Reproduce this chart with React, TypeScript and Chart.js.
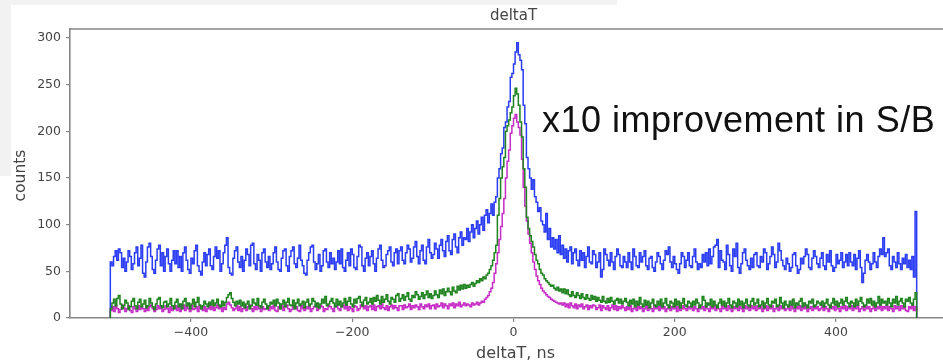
import React, { useEffect, useRef } from "react";
import { Chart, registerables } from "chart.js";

Chart.register(...registerables);

// ---- data (histogram counts, 2 ns bins from -500 to 500 ns; one row = 40 ns) ----
const BIN_START = -500;
const BIN_WIDTH = 2;

const BLUE_COUNTS = [
  60, 56, 66, 72, 62, 74, 70, 54, 64, 50, 60, 72, 66, 52, 58, 70, 76, 56, 64, 78,
  48, 44, 60, 76, 80, 66, 52, 48, 62, 74, 78, 56, 70, 50, 66, 74, 58, 50, 62, 72,
  58, 72, 54, 66, 50, 70, 76, 62, 52, 48, 64, 58, 72, 78, 56, 50, 46, 60, 70, 56,
  68, 74, 56, 52, 66, 76, 64, 72, 50, 58, 70, 78, 86, 54, 48, 46, 64, 72, 76, 60,
  54, 66, 50, 62, 74, 68, 56, 78, 80, 58, 52, 68, 62, 50, 70, 74, 60, 54, 66, 52,
  58, 70, 76, 60, 52, 50, 64, 72, 74, 56, 50, 66, 72, 76, 58, 54, 64, 78, 62, 56,
  48, 46, 62, 70, 76, 78, 60, 52, 58, 68, 50, 56, 72, 74, 60, 54, 70, 58, 64, 52,
  60, 72, 58, 74, 54, 50, 62, 70, 56, 74, 68, 54, 52, 66, 78, 76, 56, 50, 64, 70,
  56, 66, 72, 58, 50, 64, 74, 78, 62, 54, 56, 68, 72, 76, 60, 56, 70, 74, 58, 72,
  76, 62, 58, 70, 78, 74, 60, 64, 76, 82, 66, 58, 72, 78, 62, 58, 76, 84, 70, 64,
  68, 80, 74, 64, 78, 84, 72, 66, 82, 88, 72, 68, 84, 90, 76, 70, 86, 92, 78, 86,
  84, 96, 82, 92, 100, 86, 96, 104, 90, 100, 108, 94, 110, 116, 102, 112, 122, 110, 124, 130,
  150, 160, 176, 182, 204, 210, 226, 232, 258, 262, 272, 285, 295, 282, 276, 266, 228, 208, 172, 160,
  150, 138, 148, 130, 124, 114, 118, 104, 100, 92, 112, 84, 96, 76, 86, 74, 84, 70, 88, 68,
  78, 64, 74, 60, 72, 76, 58, 70, 74, 62, 56, 72, 62, 70, 54, 66, 76, 60, 58, 72,
  68, 54, 60, 70, 44, 52, 74, 68, 62, 56, 70, 60, 52, 66, 74, 68, 56, 54, 66, 60,
  54, 70, 60, 52, 74, 66, 56, 54, 70, 60, 66, 72, 56, 52, 64, 66, 54, 50, 60, 70,
  66, 58, 52, 62, 72, 68, 76, 60, 54, 66, 58, 52, 48, 58, 70, 66, 54, 62, 70, 56,
  54, 66, 74, 60, 52, 58, 54, 68, 60, 70, 56, 74, 58, 66, 76, 78, 84, 54, 72, 62,
  60, 52, 78, 68, 56, 50, 74, 66, 80, 54, 48, 58, 70, 74, 62, 56, 52, 64, 54, 68,
  70, 56, 54, 66, 60, 74, 70, 52, 58, 66, 76, 68, 54, 60, 80, 72, 62, 56, 52, 64,
  58, 50, 54, 68, 70, 56, 48, 52, 64, 58, 66, 74, 68, 54, 52, 64, 72, 66, 58, 54,
  64, 70, 56, 52, 68, 60, 72, 56, 50, 54, 68, 58, 62, 70, 54, 60, 68, 56, 70, 60,
  56, 68, 52, 64, 72, 54, 38, 48, 62, 68, 60, 52, 58, 70, 60, 54, 66, 74, 68, 86,
  66, 70, 74, 56, 52, 66, 60, 54, 70, 58, 52, 64, 58, 68, 54, 62, 52, 66, 44, 114,
];

const GREEN_COUNTS = [
  10, 16, 20, 13, 21, 24, 15, 10, 13, 19, 16, 9, 12, 18, 21, 13, 10, 17, 20, 12,
  15, 19, 11, 13, 21, 16, 12, 9, 15, 20, 22, 13, 11, 17, 18, 12, 15, 21, 13, 10,
  17, 20, 12, 15, 10, 18, 21, 13, 16, 10, 15, 20, 12, 17, 22, 14, 10, 13, 18, 15,
  12, 17, 14, 19, 13, 16, 20, 14, 12, 18, 13, 17, 22, 25, 27, 21, 17, 13, 18, 15,
  19, 13, 17, 11, 15, 18, 10, 13, 20, 16, 14, 21, 13, 11, 17, 20, 15, 10, 13, 17,
  15, 19, 13, 20, 16, 10, 15, 19, 12, 17, 21, 14, 13, 19, 10, 16, 20, 13, 15, 18,
  11, 17, 20, 13, 15, 21, 18, 12, 16, 11, 15, 20, 16, 23, 13, 15, 18, 21, 16, 12,
  20, 14, 18, 12, 16, 21, 14, 18, 22, 15, 12, 20, 16, 21, 23, 17, 13, 19, 22, 15,
  17, 21, 15, 22, 18, 24, 19, 15, 23, 17, 20, 25, 18, 15, 22, 20, 17, 24, 26, 18,
  21, 25, 19, 23, 27, 20, 18, 24, 22, 28, 25, 20, 23, 27, 21, 25, 29, 22, 26, 21,
  24, 29, 25, 22, 30, 26, 31, 24, 28, 32, 28, 25, 33, 29, 27, 34, 30, 35, 31, 36,
  32, 35, 33, 36, 38, 34, 37, 40, 38, 42, 40, 44, 42, 46, 48, 52, 56, 62, 70, 78,
  110, 128, 150, 162, 172, 200, 206, 212, 220, 226, 238, 246, 240, 228, 210, 194, 160, 140, 108, 96,
  88, 82, 76, 68, 62, 58, 52, 48, 46, 42, 40, 38, 36, 34, 35, 32, 30, 33, 29, 31,
  27, 31, 26, 30, 25, 23, 28, 24, 22, 27, 24, 21, 26, 22, 20, 25, 21, 19, 24, 20,
  23, 18, 22, 19, 17, 23, 18, 16, 21, 17, 22, 18, 15, 19, 21, 16, 20, 15, 18, 21,
  17, 13, 19, 15, 20, 12, 18, 14, 22, 15, 12, 19, 14, 18, 11, 16, 20, 14, 12, 18,
  14, 20, 12, 16, 21, 14, 11, 18, 16, 12, 20, 14, 18, 11, 16, 21, 14, 12, 18, 16,
  12, 18, 14, 20, 16, 11, 14, 23, 19, 12, 16, 14, 20, 12, 18, 14, 11, 16, 20, 14,
  18, 12, 16, 21, 14, 11, 18, 16, 12, 20, 14, 18, 11, 16, 20, 14, 12, 18, 21, 14,
  16, 20, 12, 14, 18, 11, 16, 21, 14, 12, 18, 16, 20, 12, 14, 22, 16, 11, 18, 14,
  12, 18, 14, 20, 11, 16, 14, 18, 21, 12, 16, 14, 11, 18, 16, 20, 12, 14, 18, 16,
  14, 18, 12, 16, 20, 14, 11, 16, 21, 14, 18, 12, 16, 20, 14, 18, 22, 16, 12, 18,
  16, 12, 20, 14, 18, 22, 16, 12, 14, 20, 16, 21, 14, 18, 12, 16, 23, 14, 20, 16,
  18, 14, 21, 16, 12, 20, 16, 23, 14, 18, 21, 16, 12, 20, 18, 22, 16, 14, 20, 27,
];

const MAGENTA_COUNTS = [
  8, 12, 7, 13, 10, 6, 9, 14, 11, 7, 10, 13, 8, 6, 12, 10, 7, 13, 9, 12,
  10, 7, 13, 8, 12, 14, 10, 7, 9, 13, 10, 12, 7, 9, 13, 10, 6, 12, 8, 10,
  13, 8, 12, 7, 10, 14, 8, 12, 10, 7, 13, 9, 10, 12, 7, 13, 10, 8, 12, 7,
  10, 13, 9, 12, 8, 11, 14, 10, 12, 7, 11, 9, 15, 17, 14, 11, 8, 10, 13, 8,
  12, 7, 10, 13, 8, 12, 14, 10, 7, 12, 9, 13, 10, 7, 12, 9, 10, 13, 8, 12,
  10, 13, 8, 7, 12, 10, 13, 8, 12, 14, 10, 7, 9, 13, 10, 12, 8, 7, 13, 10,
  8, 12, 10, 13, 7, 10, 12, 14, 8, 10, 13, 12, 7, 10, 9, 13, 12, 10, 7, 12,
  13, 10, 8, 12, 14, 10, 13, 8, 12, 10, 7, 13, 12, 8, 10, 14, 12, 10, 13, 8,
  12, 13, 9, 14, 8, 12, 13, 10, 15, 11, 9, 13, 8, 12, 14, 10, 13, 11, 8, 13,
  13, 9, 14, 11, 12, 15, 9, 13, 11, 14, 12, 9, 15, 12, 10, 14, 12, 15, 10, 13,
  14, 10, 15, 12, 13, 16, 11, 15, 13, 10, 15, 13, 16, 11, 15, 13, 17, 12, 14, 16,
  13, 15, 14, 12, 16, 14, 15, 17, 14, 16, 18, 17, 20, 22, 24, 28, 32, 38, 48, 58,
  70, 84, 98, 112, 128, 150, 168, 180, 198, 206, 214, 218, 210, 204, 196, 170, 140, 120, 104, 90,
  80, 70, 60, 52, 45, 40, 36, 32, 29, 27, 25, 23, 22, 20, 19, 18, 17, 16, 15, 16,
  14, 16, 12, 15, 11, 16, 13, 11, 15, 10, 14, 12, 15, 10, 12, 14, 9, 13, 11, 14,
  13, 9, 11, 14, 8, 13, 11, 9, 13, 8, 11, 14, 9, 13, 8, 12, 10, 13, 11, 8,
  12, 9, 13, 7, 10, 12, 8, 13, 10, 12, 7, 10, 13, 8, 12, 10, 7, 13, 10, 12,
  8, 13, 10, 12, 7, 10, 13, 8, 12, 10, 13, 7, 12, 8, 10, 13, 10, 8, 12, 10,
  13, 8, 12, 10, 7, 13, 10, 12, 8, 13, 10, 7, 12, 10, 13, 8, 12, 10, 7, 13,
  10, 12, 8, 13, 10, 7, 12, 10, 13, 8, 12, 10, 7, 13, 10, 12, 8, 13, 10, 12,
  8, 13, 10, 12, 7, 10, 13, 8, 12, 10, 13, 7, 10, 12, 8, 13, 10, 12, 8, 10,
  12, 8, 13, 10, 7, 12, 10, 13, 8, 12, 10, 13, 7, 10, 12, 8, 13, 10, 12, 8,
  10, 13, 8, 12, 10, 7, 13, 10, 12, 8, 13, 10, 7, 12, 10, 13, 8, 12, 10, 13,
  8, 12, 10, 13, 7, 10, 12, 8, 13, 10, 12, 7, 10, 13, 8, 12, 10, 13, 8, 12,
  10, 13, 8, 12, 10, 7, 13, 10, 12, 8, 13, 10, 12, 8, 7, 12, 10, 13, 8, 12,
];

const X_TICKS = [-400, -200, 0, 200, 400];
const Y_TICKS = [0, 50, 100, 150, 200, 250, 300];
const TITLE = "deltaT";
const X_LABEL = "deltaT, ns";
const Y_LABEL = "counts";
const ANNOTATION = "x10 improvement in S/B";

// ---- styles ----
const X_MIN = -550;
const X_MAX = 550;
const Y_MAX = 309.6;
const TEXT_COLOR = "#444444";
const SPINE_COLOR = "#868686";
const FONT = '"DejaVu Sans", sans-serif';

function stepPoints(values: number[]) {
  const pts: { x: number; y: number }[] = [{ x: BIN_START, y: 0 }];
  values.forEach((v, i) => pts.push({ x: BIN_START + i * BIN_WIDTH, y: v }));
  pts.push({ x: BIN_START + values.length * BIN_WIDTH, y: 0 });
  return pts;
}

const frame = {
  id: "frame",
  afterDraw(chart: any) {
    const { ctx, chartArea: a } = chart;
    ctx.save();
    ctx.strokeStyle = SPINE_COLOR;
    ctx.lineWidth = 1.6;
    ctx.beginPath();
    ctx.moveTo(a.left, a.top);
    ctx.lineTo(a.right, a.top);
    ctx.lineTo(a.right, a.bottom);
    ctx.stroke();
    ctx.fillStyle = TEXT_COLOR;
    ctx.textAlign = "center";
    ctx.textBaseline = "middle";
    const cx = (a.left + a.right) / 2;
    ctx.font = `15px ${FONT}`;
    ctx.fillText(TITLE, cx, 16.5);
    ctx.font = `16px ${FONT}`;
    ctx.fillText(X_LABEL, cx + 2, 353.5);
    ctx.translate(21, (a.top + a.bottom) / 2 + 2);
    ctx.rotate(-Math.PI / 2);
    ctx.font = `15.5px ${FONT}`;
    ctx.fillText(Y_LABEL, 0, 0);
    ctx.restore();
  },
};

export default function App() {
  const ref = useRef<HTMLCanvasElement | null>(null);

  useEffect(() => {
    if (!ref.current) return;
    const line = (data: number[], color: string) => ({
      data: stepPoints(data),
      borderColor: color,
      borderWidth: 1.5,
      pointRadius: 0,
      stepped: "before" as const,
      fill: false,
    });
    const chart = new Chart(ref.current, {
      type: "line",
      data: {
        datasets: [
          line(GREEN_COUNTS, "#1f831f"),
          line(MAGENTA_COUNTS, "#c62cc6"),
          line(BLUE_COUNTS, "#2a3cf4"),
        ],
      },
      options: {
        animation: false,
        responsive: false,
        events: [],
        layout: { padding: { left: 0, top: 29, right: 23, bottom: 0 } },
        plugins: { legend: { display: false }, tooltip: { enabled: false }, title: { display: false } },
        scales: {
          x: {
            type: "linear",
            min: X_MIN,
            max: X_MAX,
            afterBuildTicks: (s: any) => { s.ticks = X_TICKS.map((v) => ({ value: v })); },
            afterFit: (s: any) => { s.height = 44; },
            ticks: {
              color: TEXT_COLOR,
              font: { family: FONT, size: 12.5 },
              padding: 3,
              maxRotation: 0,
              autoSkip: false,
              callback: (v: any) => (Number(v) < 0 ? "\u2212" + Math.abs(Number(v)) : String(v)),
            },
            grid: { drawOnChartArea: false, drawTicks: true, tickLength: 4, color: SPINE_COLOR, lineWidth: 1.2 },
            border: { display: true, color: SPINE_COLOR, width: 1.6 },
          },
          y: {
            type: "linear",
            min: 0,
            max: Y_MAX,
            afterBuildTicks: (s: any) => { s.ticks = Y_TICKS.map((v) => ({ value: v })); },
            afterFit: (s: any) => { s.width = 70; },
            ticks: {
              color: TEXT_COLOR,
              font: { family: FONT, size: 12.5 },
              padding: 5,
              autoSkip: false,
            },
            grid: { drawOnChartArea: false, drawTicks: true, tickLength: 4, color: SPINE_COLOR, lineWidth: 1.2 },
            border: { display: true, color: SPINE_COLOR, width: 1.6 },
          },
        },
      },
      plugins: [frame],
    });
    return () => chart.destroy();
  }, []);

  return (
    <div
      style={{
        position: "absolute",
        left: 0,
        top: 0,
        width: 943,
        height: 362,
        overflow: "hidden",
        background: "#ffffff",
      }}
    >
      <div style={{ position: "absolute", left: 0, top: 0, width: 617, height: 5, background: "#f2f2f2" }} />
      <div style={{ position: "absolute", left: 0, top: 0, width: 11, height: 176, background: "#f2f2f2" }} />
      <canvas ref={ref} width={980} height={362} style={{ position: "absolute", left: 0, top: 0 }} />
      <div
        style={{
          position: "absolute",
          left: 542,
          top: 101.5,
          fontFamily: '"Liberation Sans", Arial, sans-serif',
          fontSize: 36,
          lineHeight: "36px",
          letterSpacing: "0.5px",
          color: "#111",
          whiteSpace: "nowrap",
        }}
      >
        {ANNOTATION}
      </div>
    </div>
  );
}
